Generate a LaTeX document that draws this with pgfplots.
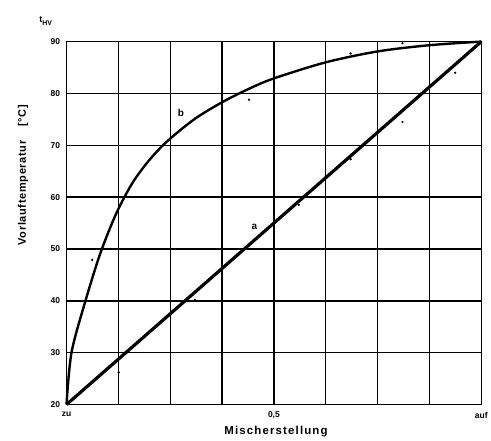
\documentclass[border=0pt]{standalone}
\usepackage{pgfplots}
\pgfplotsset{compat=1.18}
\usepackage{fontspec}
\setmainfont{Liberation Sans}
\begin{document}
\begin{tikzpicture}
\begin{axis}[
  name=ax,
  scale only axis,
  width=416pt, height=364pt,
  xmin=0, xmax=1, ymin=20, ymax=90,
  xtick={0,0.125,0.25,0.375,0.5,0.625,0.75,0.875,1},
  xticklabels={zu,,,,{0,5},,,,auf},
  ytick={20,30,40,50,60,70,80,90},
  grid=major,
  grid style={black, line width=1.4pt},
  axis line style={black, line width=1.6pt},
  major tick length=0pt,
  tick label style={font=\fontsize{8.5}{10}\selectfont\bfseries},
  /pgf/number format/assume math mode=true,
  xlabel={\addfontfeature{LetterSpace=10}Mischerstellung},
  ylabel={\addfontfeature{LetterSpace=6}Vorlauftemperatur\hspace{14pt}[°C]},
  xlabel style={at={(rel axis cs:0.505,-0.074)}, anchor=center, font=\fontsize{11.5}{13}\selectfont\bfseries},
  ylabel style={at={(rel axis cs:-0.105,0.632)}, anchor=center, font=\fontsize{11}{13}\selectfont\bfseries},
  xticklabel style={yshift=-4pt},
  yticklabel style={xshift=-3pt},
  clip=false,
]
\addplot[black, line width=2.4pt, smooth] coordinates {
(0,20) (0.012,30) (0.0457,40) (0.0817,49.2) (0.1202,56.9) (0.1587,62.7)
(0.1971,66.9) (0.2404,70.6) (0.3077,75.0) (0.375,78.3) (0.44,80.9) (0.5,82.9)
(0.625,86) (0.75,88.1) (0.875,89.3) (1,90)
};
\addplot[black, line width=3.2pt] coordinates {(0,20) (1,90)};
\addplot[only marks, mark=*, mark size=0.9pt, black] coordinates {
(0.062,47.9) (0.126,26.2) (0.31,40.2) (0.31,75.2) (0.375,77.1) (0.44,78.8)
(0.685,87.7) (0.81,89.7) (0.937,84) (0.81,74.5) (0.685,67.3) (0.56,58.5)
};
\node[font=\bfseries\normalsize] at (axis cs:0.453,54.2) {a};
\node[font=\bfseries\normalsize] at (axis cs:0.276,76.3) {b};
\node[font=\bfseries\small, anchor=south] at (rel axis cs:-0.05,1.035) {t\raisebox{-0.6ex}{\scriptsize HV}};
\end{axis}
\path[use as bounding box] ([xshift=-66.7pt,yshift=-35pt]ax.south west) rectangle ([xshift=8.3pt,yshift=41.7pt]ax.north east);
\end{tikzpicture}
\end{document}
